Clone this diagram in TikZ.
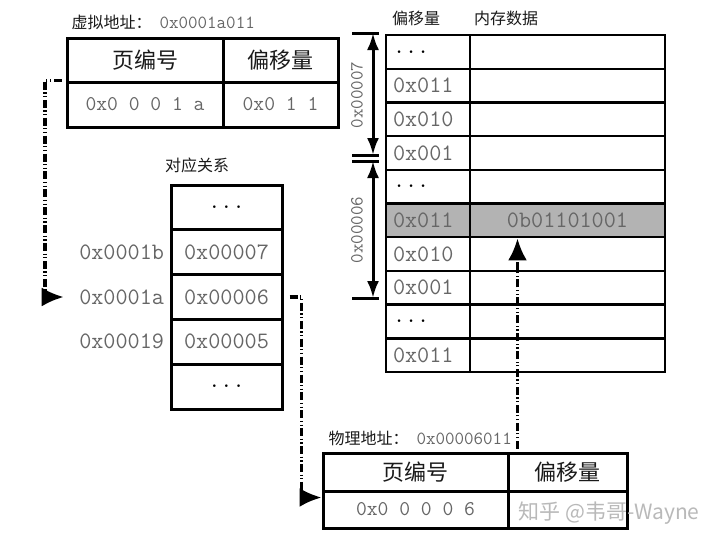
\documentclass[tikz,border=0pt]{standalone}
\usepackage{fontspec}
\newfontfamily\cjk{Noto Sans CJK SC}
\usetikzlibrary{arrows.meta}
\definecolor{hexgray}{HTML}{666666}
\definecolor{hlgray}{HTML}{B3B3B3}
\definecolor{cjkblack}{HTML}{1A1A1A}
\newcommand\tdots{\textcolor{black}{...}}
\tikzset{
  cell/.style={draw, line width=3pt, inner sep=0pt},
  memcell/.style={draw, line width=2.4pt, inner sep=0pt, minimum height=33.7pt},
  hexbig/.style={text=hexgray, font=\fontsize{23.5}{26}\ttfamily},
  hexmid/.style={text=hexgray, font=\fontsize{21}{24}\ttfamily},
  hexsmall/.style={text=hexgray, font=\fontsize{18.5}{21}\ttfamily},
  cjkbig/.style={text=cjkblack, font=\fontsize{22}{24}\cjk},
  cjksmall/.style={text=cjkblack, font=\fontsize{16}{18}\cjk},
  tick/.style={line width=3pt},
  dim/.style={{Latex[length=17pt,width=12pt]}-{Latex[length=17pt,width=12pt]}, line width=3pt},
  link/.style={line width=3.2pt, dash pattern=on 8pt off 2.5pt on 1.2pt off 2.5pt on 1.2pt off 2.5pt,
    -{Latex[length=22pt,width=19pt]}}
}
\begin{document}
\begin{tikzpicture}[x=1pt,y=-1pt]
  \path[use as bounding box, fill=white] (0,0) rectangle (720,544);

  \node[cjksmall, anchor=west] (vlabel) at (68,22) {虚拟地址：};
  \node[hexsmall, anchor=west] (vaddr) at (156,23) {0x0001a011};
  \node[cell, minimum width=156pt, minimum height=44pt, cjkbig] (vpage) at (145,60) {页编号};
  \node[cell, minimum width=115pt, minimum height=44pt, cjkbig] (voff) at (280.5,60) {偏移量};
  \node[cell, minimum width=156pt, minimum height=45pt, hexmid] (vpageval) at (145,104.5) {0x0 0 0 1 a};
  \node[cell, minimum width=115pt, minimum height=45pt, hexmid] (voffval) at (280.5,104.5) {0x0 1 1};

  \node[cjksmall] (hoff) at (416,18) {偏移量};
  \node[cjksmall] (hdat) at (506,18) {内存数据};
  \foreach \off/\dat/\bg [count=\i] in {\tdots//white,0x011//white,0x010//white,0x001//white,\tdots//white,
      0x011/0b01101001/hlgray,0x010//white,0x001//white,\tdots//white,0x011//white}{
    \node[memcell, fill=\bg, minimum width=84pt, text width=70pt, align=left, hexbig] (off\i) at (428,18.15+\i*33.7) {\off};
    \node[memcell, fill=\bg, minimum width=195pt, hexbig] (dat\i) at (567.5,18.15+\i*33.7) {\dat};
  }

  \coordinate (t7) at (373,33);
  \coordinate (b7) at (373,155);
  \coordinate (t6) at (373,161);
  \coordinate (b6) at (373,298);
  \foreach \c in {t7,b7,t6,b6}
    \draw[tick] ([xshift=-21pt]\c) -- ([xshift=6pt]\c);
  \draw[dim] (t7) -- (b7);
  \draw[dim] (t6) -- (b6);
  \node[hexsmall, rotate=90] (len7) at (357,95) {0x00007};
  \node[hexsmall, rotate=90] (len6) at (357,230) {0x00006};

  \node[cjksmall] (maptitle) at (197,165) {对应关系};
  \foreach \pfn [count=\i] in {\tdots,0x00007,0x00006,0x00005,\tdots}
    \node[cell, minimum width=111pt, minimum height=44.8pt, hexbig] (map\i) at (226.5,162.6+\i*44.8) {\pfn};
  \foreach \vpn/\j in {0x0001b/2,0x0001a/3,0x00019/4}
    \node[hexbig, anchor=east] (vpn\j) at ([xshift=-2pt]map\j.west) {\vpn};

  \node[cjksmall, anchor=west] (plabel) at (325,438) {物理地址：};
  \node[hexsmall, anchor=west] (paddr) at (413,439) {0x00006011};
  \node[cell, minimum width=185pt, minimum height=38pt, cjkbig] (ppage) at (415.5,472) {页编号};
  \node[cell, minimum width=119pt, minimum height=38pt, cjkbig] (poff) at (567.5,472) {偏移量};
  \node[cell, minimum width=185pt, minimum height=37pt, hexmid] (ppageval) at (415.5,509.5) {0x0 0 0 0 6};
  \node[cell, minimum width=119pt, minimum height=37pt] (poffval) at (567.5,509.5) {};

  \coordinate (bendA) at (45,297);
  \draw[link] ([xshift=-4pt]vpageval.north west) -| (bendA) -- ([xshift=-12pt]vpn3.west);
  \draw[link] ([xshift=6pt]map3.east) -| ([xshift=-20pt,yshift=-5pt]ppage.south west) -- ([yshift=-5pt]ppage.south west);
  \draw[link] ([xshift=-50pt,yshift=3pt]poff.north) -- ([xshift=-50pt]dat6.south);

  \node[anchor=west, text=gray!55, font=\fontsize{21}{21}\cjk] (mark) at (515,513) {知乎 @韦哥-Wayne};
\end{tikzpicture}
\end{document}
